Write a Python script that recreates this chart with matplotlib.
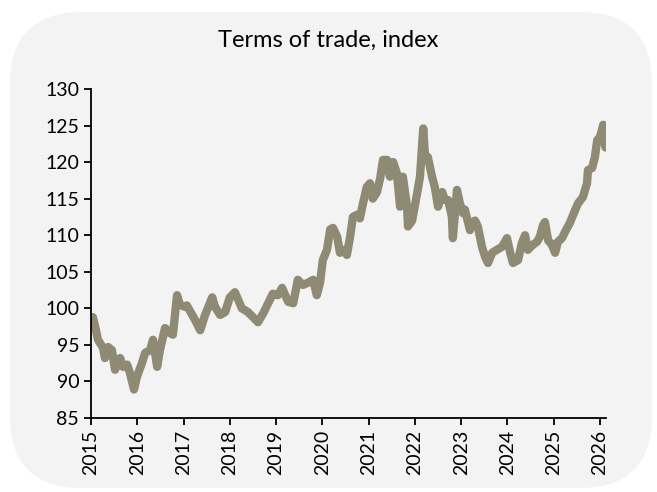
import numpy as np
import matplotlib
matplotlib.use('Agg')
import matplotlib.pyplot as plt
from matplotlib.patches import FancyBboxPatch

# --- данные: дробный год и индекс условий торговли ---
years = [2015.00, 2015.04, 2015.09, 2015.15, 2015.22, 2015.26, 2015.30, 2015.37, 2015.45, 2015.52,
         2015.58, 2015.63, 2015.69, 2015.78, 2015.84, 2015.93, 2015.99, 2016.10, 2016.17, 2016.28,
         2016.34, 2016.43, 2016.49, 2016.60, 2016.71, 2016.77, 2016.86, 2016.92, 2017.03, 2017.07,
         2017.25, 2017.36, 2017.46, 2017.62, 2017.68, 2017.79, 2017.90, 2018.00, 2018.11, 2018.26,
         2018.39, 2018.50, 2018.61, 2018.72, 2018.83, 2018.93, 2019.04, 2019.13, 2019.26, 2019.37,
         2019.47, 2019.58, 2019.69, 2019.80, 2019.88, 2019.95, 2020.01, 2020.10, 2020.17, 2020.23,
         2020.32, 2020.38, 2020.45, 2020.53, 2020.60, 2020.66, 2020.75, 2020.81, 2020.88, 2020.96,
         2021.03, 2021.09, 2021.18, 2021.25, 2021.31, 2021.40, 2021.46, 2021.53, 2021.61, 2021.68,
         2021.74, 2021.83, 2021.85, 2021.94, 2022.05, 2022.11, 2022.18, 2022.22, 2022.28, 2022.37,
         2022.43, 2022.50, 2022.59, 2022.65, 2022.72, 2022.80, 2022.82, 2022.91, 2022.97, 2023.04,
         2023.08, 2023.19, 2023.23, 2023.30, 2023.36, 2023.45, 2023.52, 2023.58, 2023.67, 2023.77,
         2023.88, 2023.99, 2024.06, 2024.12, 2024.23, 2024.31, 2024.38, 2024.44, 2024.55, 2024.64,
         2024.70, 2024.77, 2024.81, 2024.88, 2024.96, 2025.03, 2025.09, 2025.18, 2025.24, 2025.35,
         2025.46, 2025.53, 2025.63, 2025.72, 2025.74, 2025.83, 2025.89, 2025.94, 2026.00, 2026.07,
         2026.10, 2026.12]
tot = [98.5, 98.8, 97.5, 95.7, 95.0, 94.6, 93.2, 94.7, 94.3, 91.6,
       92.5, 93.2, 92.0, 92.3, 91.2, 88.9, 90.6, 92.5, 93.9, 94.3,
       95.7, 92.0, 94.3, 97.3, 96.6, 96.4, 101.8, 100.5, 100.2, 100.4,
       98.4, 97.0, 99.0, 101.5, 100.2, 99.1, 99.5, 101.5, 102.2, 100.0,
       99.5, 98.8, 98.1, 99.3, 100.7, 102.0, 101.8, 102.8, 100.9, 100.7,
       103.9, 103.2, 103.5, 103.9, 101.8, 103.5, 106.6, 108.0, 110.8, 111.0,
       109.8, 107.6, 108.0, 107.3, 109.8, 112.5, 112.8, 112.3, 114.4, 116.6,
       117.1, 115.0, 115.9, 117.8, 120.3, 120.3, 118.0, 120.0, 118.5, 113.9,
       118.0, 113.9, 111.2, 112.0, 115.8, 118.0, 124.6, 120.7, 120.7, 118.0,
       116.6, 113.9, 115.9, 114.8, 114.8, 112.5, 109.6, 116.2, 114.4, 113.0,
       113.5, 110.7, 111.7, 112.0, 111.2, 108.4, 107.0, 106.2, 107.6, 108.0,
       108.4, 109.6, 107.6, 106.2, 106.6, 108.9, 110.0, 108.0, 108.7, 109.1,
       109.8, 111.4, 111.8, 109.3, 108.7, 107.6, 109.1, 109.6, 110.4, 111.7,
       113.4, 114.4, 115.2, 117.1, 118.9, 119.2, 120.7, 123.0, 123.4, 125.1,
       122.6, 122.0]
year_ticks = list(range(2015, 2027))
y_ticks = list(range(85, 131, 5))

# ------------------------------------------------------------- #
plt.rcParams['font.family'] = ['Lato', 'DejaVu Sans']

fig = plt.figure(figsize=(6.57, 4.92), dpi=100)
fig.patch.set_facecolor('white')

# серая подложка со скруглёнными углами (под осями)
bg = FancyBboxPatch((10 / 657, 4 / 492), 642 / 657, 476 / 492,
                    boxstyle='round,pad=0,rounding_size=0.11',
                    transform=fig.transFigure, facecolor='#f3f3f3',
                    edgecolor='none', mutation_aspect=657 / 492, zorder=-10)
fig.patches.append(bg)

ax = fig.add_axes([91 / 657, 1 - 418 / 492, 515 / 657, 329 / 492])
ax.set_zorder(5)
ax.set_facecolor('none')
ax.plot(years, tot, color='#8f8a74', lw=6.0, solid_capstyle='round',
        solid_joinstyle='round')

ax.set_xlim(2015, 2026.13)
ax.set_ylim(85, 130)
ax.set_xticks(year_ticks)
ax.set_xticklabels([str(y) for y in year_ticks], rotation=90)
ax.set_yticks(y_ticks)
for s in ['top', 'right']:
    ax.spines[s].set_visible(False)
for s in ['left', 'bottom']:
    ax.spines[s].set_linewidth(1.3)
ax.tick_params(axis='both', direction='out', length=5, width=1.3,
               labelsize=14, colors='black')

fig.text(0.5, 1 - 40 / 492, 'Terms of trade, index', ha='center', va='center',
         fontsize=17)

fig.savefig('out.png', dpi=100)
